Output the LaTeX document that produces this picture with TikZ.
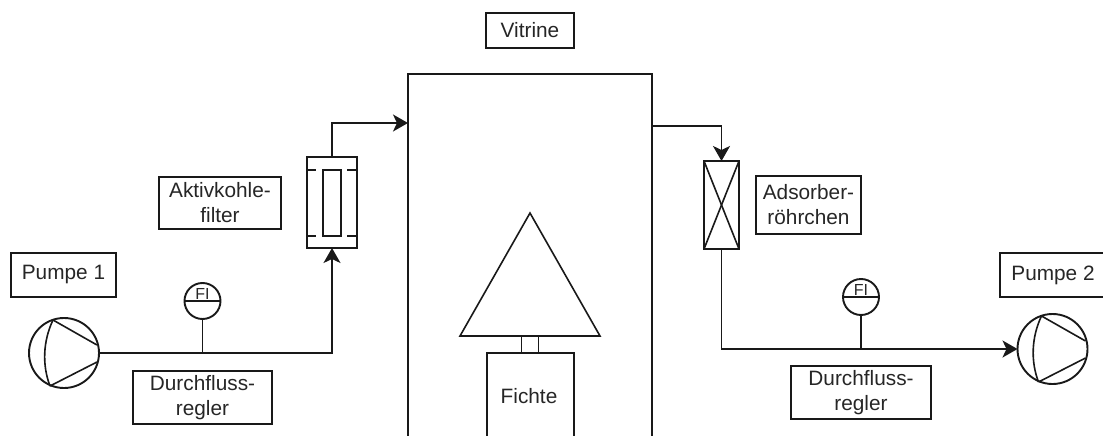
\documentclass[tikz,border=0pt]{standalone}
\usepackage{fontspec}
\setmainfont{Liberation Sans}
\usetikzlibrary{arrows.meta,calc}

\newcommand{\pumpblade}[1]{%
    \draw[thinpipe] ($(#1.center)+(-11,-33)$) -- ($(#1.center)+(33,-8)$);
    \draw[thinpipe] ($(#1.center)+(33,9)$) -- ($(#1.center)+(-14,33)$);
    \draw[thinpipe] ($(#1.center)+(-11,-33)$) .. controls ($(#1.center)+(-21,-12)$) and ($(#1.center)+(-22,12)$) .. ($(#1.center)+(-14,33)$);
}

\begin{document}
\begin{tikzpicture}[
    x=1pt, y=-1pt,
    pipe/.style={draw=black!90, line width=1.9pt},
    arrow/.style={pipe, -{Stealth[length=15pt,width=17pt,inset=4pt]}},
    thinpipe/.style={draw=black!90, line width=1.6pt},
    tag/.style={rectangle, draw=black!90, line width=1.7pt, outer sep=0pt, inner sep=0pt, align=center, font=\fontsize{20.8}{25}\selectfont, text=black!85},
    vessel/.style={rectangle, pipe, outer sep=0pt, inner sep=0pt},
    pump/.style={circle, pipe, outer sep=0pt, inner sep=0pt, minimum size=70pt},
    gauge/.style={circle, pipe, outer sep=0pt, inner sep=0pt, minimum size=36pt}
]
    \clip (0,0) rectangle (1103,436);

    % Vitrine and tree
    \node[tag, minimum width=88pt, minimum height=35pt] (vitrinetag) at (530,30.5) {Vitrine};
    \node[vessel, minimum width=244pt, minimum height=420pt] (vitrine) at (530,284) {};
    \node[vessel, minimum width=87pt, minimum height=140pt] (fichte) at (530.5,423) {};
    \node[font=\fontsize{20.8}{25}\selectfont, text=black!85] (fichtetag) at (529,396) {Fichte};
    \coordinate (crowntop) at (530,213);
    \coordinate (crownleft) at (460,336);
    \coordinate (crownright) at (600,336);
    \coordinate (trunkleft) at (521.5,336);
    \coordinate (trunkright) at (538.5,336);
    \draw[thinpipe] (crowntop) -- (crownleft) -- (crownright) -- cycle;
    \draw[thinpipe] (trunkleft) -- (trunkleft |- fichte.north);
    \draw[thinpipe] (trunkright) -- (trunkright |- fichte.north);

    % Left side
    \node[tag, minimum width=105pt, minimum height=44pt] (pumpe1tag) at (63.5,275) {Pumpe 1};
    \node[tag, minimum width=122pt, minimum height=52pt] (filtertag) at (220,203) {Aktivkohle-\\filter};
    \node[tag, minimum width=139pt, minimum height=53pt] (regler1tag) at (202.5,397.5) {Durchfluss-\\regler};
    \node[pump] (pump1) at (64,353) {};
    \pumpblade{pump1}
    \node[gauge] (fi1) at (202.5,301) {};
    \node[font=\fontsize{16}{16}\selectfont, inner sep=0pt, anchor=south, text=black!85] (fi1tag) at ($(fi1.center)+(0,-1)$) {FI};
    \draw[thinpipe] (fi1.west) -- (fi1.east);

    \node[vessel, minimum width=50pt, minimum height=91pt] (filter) at (332,202.5) {};
    \node[rectangle, thinpipe, outer sep=0pt, minimum width=18pt, minimum height=66pt] (filtercore) at (332,203) {};
    \draw[thinpipe] (filter.west |- filtercore.north) -- +(9,0);
    \draw[thinpipe] (filter.east |- filtercore.north) -- +(-10,0);
    \draw[thinpipe] (filter.west |- filtercore.south) -- +(9,0);
    \draw[thinpipe] (filter.east |- filtercore.south) -- +(-10,0);

    \coordinate (vitrinein) at (408,123);
    \draw[arrow] (pump1.east) -| (filter.south);
    \draw[arrow] (filter.north) |- (vitrinein);
    \draw[pipe] (fi1.south) -- (fi1.south |- pump1.east);

    % Right side
    \node[tag, minimum width=105pt, minimum height=58pt] (adsorbertag) at (808.5,205) {Adsorber-\\röhrchen};
    \node[tag, minimum width=106pt, minimum height=44pt] (pumpe2tag) at (1053,275) {Pumpe 2};
    \node[tag, minimum width=140pt, minimum height=53pt] (regler2tag) at (861,392.5) {Durchfluss-\\regler};
    \node[pump] (pump2) at (1052.5,349) {};
    \pumpblade{pump2}
    \node[gauge] (fi2) at (861,297) {};
    \node[font=\fontsize{16}{16}\selectfont, inner sep=0pt, anchor=south, text=black!85] (fi2tag) at ($(fi2.center)+(0,-1)$) {FI};
    \draw[thinpipe] (fi2.west) -- (fi2.east);

    \node[vessel, minimum width=35pt, minimum height=88pt] (adsorber) at (721.5,205) {};
    \draw[thinpipe] (adsorber.north west) -- (adsorber.south east);
    \draw[thinpipe] (adsorber.north east) -- (adsorber.south west);

    \coordinate (vitrineout) at (652,126);
    \draw[arrow] (vitrineout) -| (adsorber.north);
    \draw[arrow] (adsorber.south) |- (pump2.west);
    \draw[pipe] (fi2.south) -- (fi2.south |- pump2.west);
\end{tikzpicture}
\end{document}
